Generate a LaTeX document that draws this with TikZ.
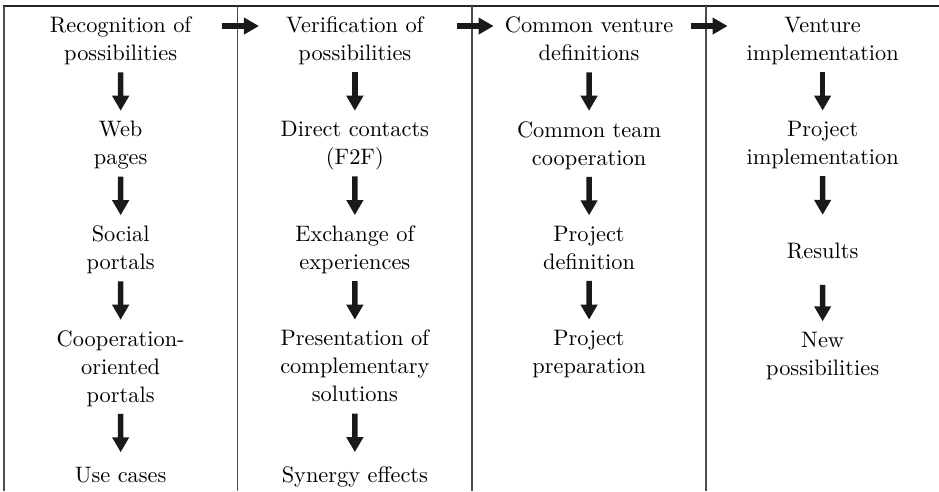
\documentclass[tikz,border=0pt]{standalone}
\usepackage{tikz}
\usetikzlibrary{arrows.meta,calc}

\tikzset{
    stage/.style={align=center, anchor=north, inner sep=0pt,
        execute at begin node=\strut, execute at end node=\strut},
    flow/.style={draw=black!90, line width=2.6pt, -{Triangle[width=7.5pt,length=7pt]}},
    rule/.style={draw=black!70, line width=0.6pt}
}

\begin{document}
\begin{tikzpicture}[
    font=\fontsize{10.4}{13}\selectfont,
    every node/.style={stage},
    grow=down,
    level distance=36.3pt,
    level 4/.style={level distance=42.8pt},
    edge from parent/.style={flow, shorten <=1.4pt, shorten >=4.7pt}
]
    \useasboundingbox (0pt,0pt) rectangle (436.6pt,-228.3pt);

    % frame
    \coordinate (sep0) at (1.9pt,-2.8pt);
    \coordinate (sep1) at (110.4pt,-2.8pt);
    \coordinate (sep2) at (219.5pt,-2.8pt);
    \coordinate (sep3) at (328.3pt,-2.8pt);
    \draw [rule,draw=black!85] (1.4pt,-2.8pt) -- (436.6pt,-2.8pt);
    \draw [rule] (sep0) -- ++(0,-225.5pt);
    \draw [rule] (sep1) -- ++(0,-225.5pt);
    \draw [rule] (sep2) -- ++(0,-225.5pt);
    \draw [rule] (sep3) -- ++(0,-225.5pt);

    \node (rec) at (56.1pt,-7.6pt) {Recognition of\\possibilities}
        child {node (web) {Web\\pages}
            child {node (soc) {Social\\portals}
                child {node (coop) {Cooperation-\\oriented\\portals}
                    child {node (use) {Use cases}}
                }
            }
        };

    \node (ver) at (165.0pt,-7.6pt) {Verification of\\possibilities}
        child {node (f2f) {Direct contacts\\(F2F)}
            child {node (exch) {Exchange of\\experiences}
                child {node (pres) {Presentation of\\complementary\\solutions}
                    child {node (syn) {Synergy effects}}
                }
            }
        };

    \node (vdef) at (273.9pt,-7.6pt) {Common venture\\definitions}
        child {node (team) {Common team\\cooperation}
            child {node (pdef) {Project\\definition}
                child {node (prep) {Project\\preparation}}
            }
        };

    \node (vimp) at (382.5pt,-7.6pt) {Venture\\implementation}
        child {node (pimp) {Project\\implementation}
            child {node (res) [minimum height=26pt] {Results}
                child {node (new) {New\\possibilities}}
            }
        };

    \draw [flow] ($(sep1 |- rec.north)+(-7.2pt,-4.5pt)$) -- ($(sep1 |- ver.north)+(10pt,-4.5pt)$);
    \draw [flow] ($(sep2 |- ver.north)+(-7.2pt,-4.5pt)$) -- ($(sep2 |- vdef.north)+(10pt,-4.5pt)$);
    \draw [flow] ($(sep3 |- vdef.north)+(-7.2pt,-4.5pt)$) -- ($(sep3 |- vimp.north)+(10pt,-4.5pt)$);

\end{tikzpicture}
\end{document}
